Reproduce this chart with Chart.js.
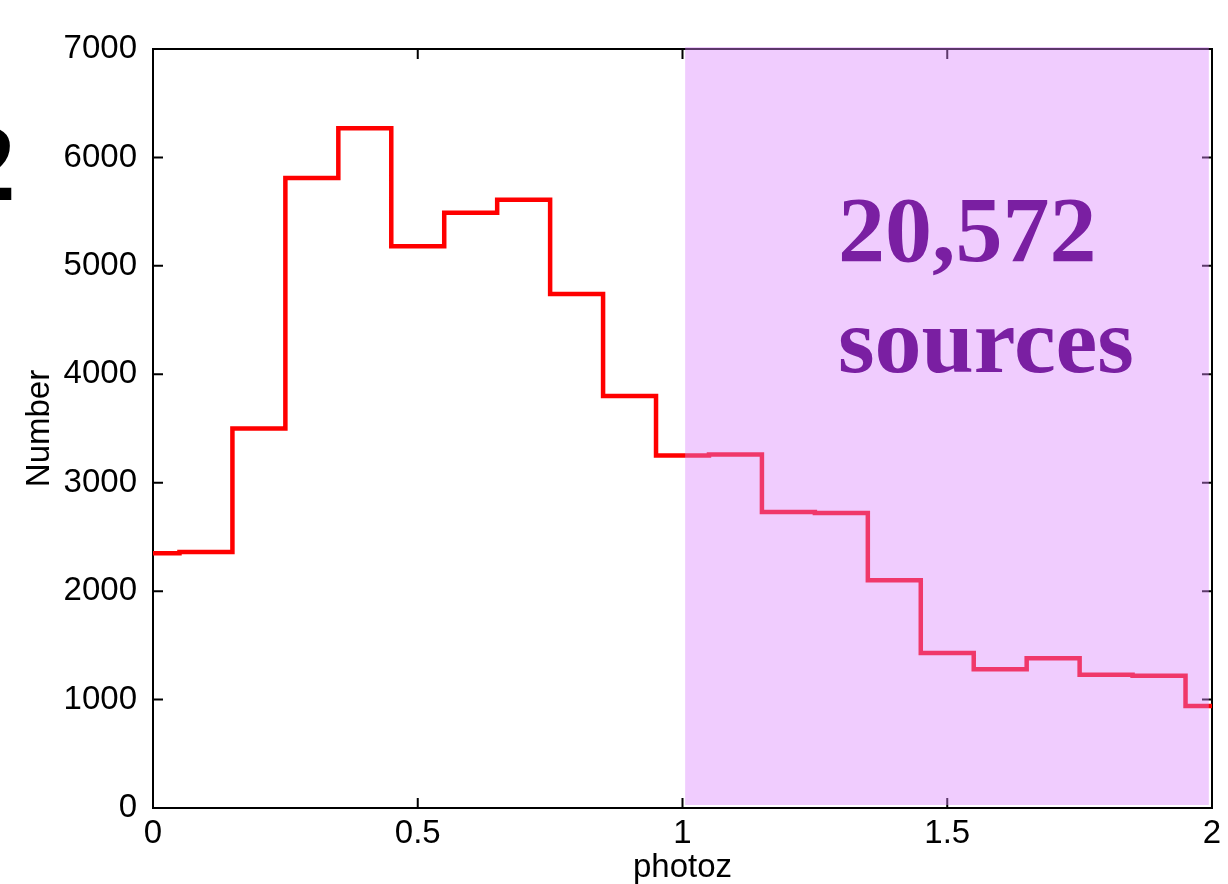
<!DOCTYPE html>
<html>
<head>
<meta charset="utf-8">
<title>photoz histogram</title>
<script src="https://cdn.jsdelivr.net/npm/chart.js@4"></script>
<style>
    html, body { margin: 0; padding: 0; background: #ffffff; }
    #wrap { width: 1228px; height: 884px; }
</style>
</head>
<body>
<div id="wrap"><canvas id="histChart" width="1228" height="884"></canvas></div>
<script>
// bin centres (photoz) and counts per bin
const photozBins = [0, 0.1, 0.2, 0.3, 0.4, 0.5, 0.6, 0.7, 0.8, 0.9, 1.0,
    1.1, 1.2, 1.3, 1.4, 1.5, 1.6, 1.7, 1.8, 1.9, 2.0];
const counts = [2350, 2360, 3500, 5810, 6270, 5180, 5490, 5610, 4740, 3800, 3250,
    3260, 2730, 2720, 2100, 1430, 1280, 1380, 1230, 1220, 940];
const xTicks = [0, 0.5, 1, 1.5, 2];
const yTicks = [0, 1000, 2000, 3000, 4000, 5000, 6000, 7000];
const shadeRange = [1.005, 1.994];
const annotationLines = ["20,572", "sources"];
const panelLabel = "2";

document.addEventListener("DOMContentLoaded", function () {
    var ctx = document.getElementById("histChart").getContext("2d");

    // frame + inward ticks, drawn under the line
    const framePlugin = {
        id: "frame",
        beforeDatasetsDraw(chart) {
            const c = chart.ctx;
            const a = chart.chartArea;
            const xs = chart.scales.x;
            const ys = chart.scales.y;
            c.save();
            c.strokeStyle = "#000000";
            c.lineWidth = 2;
            c.strokeRect(a.left, a.top, a.right - a.left, a.bottom - a.top);
            c.beginPath();
            xTicks.forEach(function (v) {
                const px = xs.getPixelForValue(v);
                c.moveTo(px, a.bottom); c.lineTo(px, a.bottom - 10);
                c.moveTo(px, a.top); c.lineTo(px, a.top + 10);
            });
            yTicks.forEach(function (v) {
                const py = ys.getPixelForValue(v);
                c.moveTo(a.left, py); c.lineTo(a.left + 10, py);
                c.moveTo(a.right, py); c.lineTo(a.right - 10, py);
            });
            c.stroke();
            c.restore();
        },
        afterDatasetsDraw(chart) {
            const c = chart.ctx;
            const a = chart.chartArea;
            const xs = chart.scales.x;
            c.save();
            // translucent purple band over z > 1
            const x0 = xs.getPixelForValue(shadeRange[0]);
            const x1 = xs.getPixelForValue(shadeRange[1]);
            c.fillStyle = "rgba(219,133,252,0.42)";
            c.fillRect(x0, a.top - 2, x1 - x0, a.bottom - a.top - 1);
            // big label
            c.fillStyle = "#7a1fa2";
            c.font = "bold 94px 'Liberation Serif', 'Times New Roman', serif";
            c.textAlign = "left";
            c.textBaseline = "alphabetic";
            c.fillText(annotationLines[0], 838, 261);
            c.fillText(annotationLines[1], 838, 372);
            // clipped panel label on the far left
            c.fillStyle = "#000000";
            c.font = "bold 110px 'Liberation Serif', 'Times New Roman', serif";
            c.textAlign = "right";
            c.fillText(panelLabel, 16, 200);
            c.restore();
        }
    };

    new Chart(ctx, {
        type: "line",
        data: {
            datasets: [
                {
                    label: "photoz",
                    data: photozBins.map(function (x, i) { return { x: x, y: counts[i] }; }),
                    borderColor: "#ff0000",
                    borderWidth: 4.5,
                    stepped: "middle", // histeps
                    fill: false,
                    pointRadius: 0,
                    borderJoinStyle: "miter",
                },
            ],
        },
        options: {
            responsive: false,
            animation: false,
            layout: {
                padding: { left: 0, right: 16, top: 49, bottom: 0 },
            },
            plugins: {
                legend: { display: false },
                tooltip: { enabled: false },
            },
            scales: {
                x: {
                    type: "linear",
                    min: 0,
                    max: 2,
                    afterFit: function (scale) { scale.height = 76; },
                    afterBuildTicks: function (scale) {
                        scale.ticks = xTicks.map(function (v) { return { value: v }; });
                    },
                    grid: { display: false, drawTicks: false },
                    border: { display: false },
                    ticks: {
                        padding: 6,
                        color: "#000000",
                        maxRotation: 0,
                        font: { family: "'Liberation Sans', Arial, sans-serif", size: 33 },
                        callback: function (v) { return String(v); },
                    },
                    title: {
                        display: true,
                        text: "photoz",
                        color: "#000000",
                        padding: { top: 0, bottom: 0 },
                        font: { family: "'Liberation Sans', Arial, sans-serif", size: 33, lineHeight: 1 },
                    },
                },
                y: {
                    min: 0,
                    max: 7000,
                    afterFit: function (scale) { scale.width = 153; },
                    afterBuildTicks: function (scale) {
                        scale.ticks = yTicks.map(function (v) { return { value: v }; });
                    },
                    grid: { display: false, drawTicks: false },
                    border: { display: false },
                    ticks: {
                        padding: 16,
                        color: "#000000",
                        font: { family: "'Liberation Sans', Arial, sans-serif", size: 33 },
                        callback: function (v) { return String(v); },
                    },
                    title: {
                        display: true,
                        text: "Number",
                        color: "#000000",
                        padding: { top: 23, bottom: 0 },
                        font: { family: "'Liberation Sans', Arial, sans-serif", size: 33, lineHeight: 1 },
                    },
                },
            },
        },
        plugins: [framePlugin],
    });
});
</script>
</body>
</html>
